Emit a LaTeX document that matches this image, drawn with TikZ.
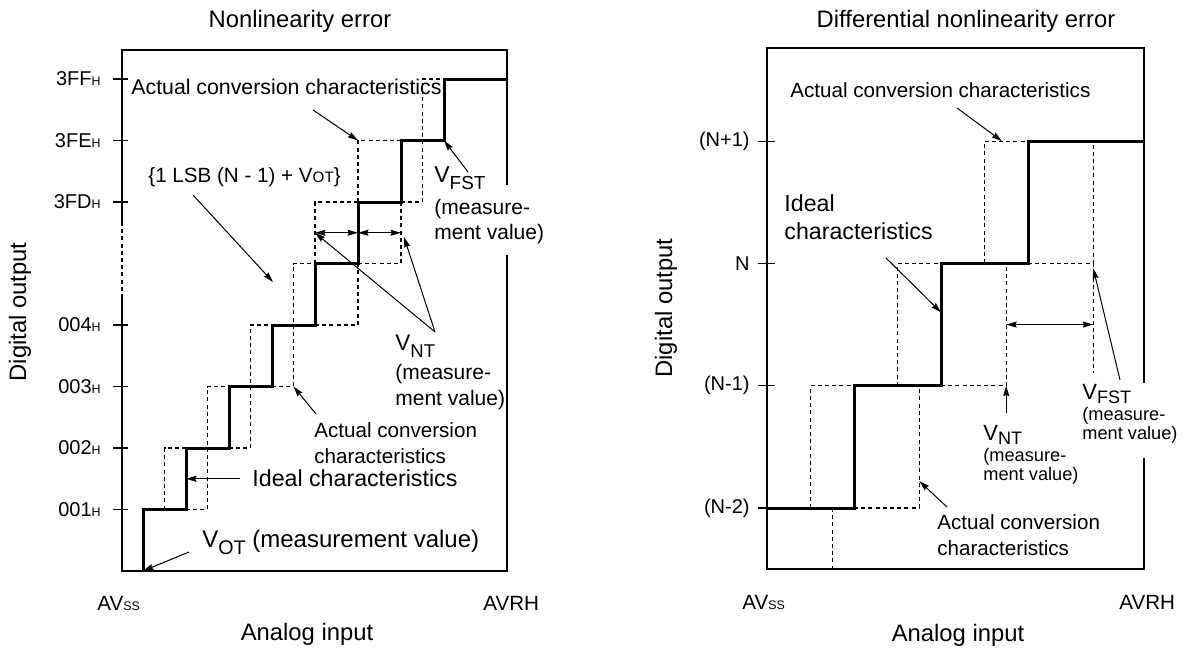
\documentclass[tikz,border=0pt]{standalone}
\usepackage{graphicx}
\usepackage{fontspec}
\setmainfont{Liberation Sans}
\usetikzlibrary{arrows.meta,positioning}

\newcommand{\tagtxt}[2][6.2]{{\fontsize{#1}{#1}\selectfont #2}}
\newcommand{\lowtxt}[2][0.3em]{\raisebox{-#1}{\scalebox{0.82}{#2}}}
\newcommand{\tightlines}{\lineskiplimit=-20pt\relax}

\tikzset{
  frame/.style={line width=0.6pt},
  ideal/.style={line width=1.5pt},
  actual/.style={line width=0.55pt, dash pattern=on 2pt off 1.6pt},
  callout/.style={line width=0.5pt, -{Stealth[length=5.2pt,width=3pt,inset=0.6pt]}},
  span/.style={line width=0.5pt, {Stealth[length=5.2pt,width=3pt,inset=0.6pt]}-{Stealth[length=5.2pt,width=3pt,inset=0.6pt]}},
  lbl/.style={inner sep=0pt, align=left},
  titletxt/.style={lbl, font=\fontsize{11.9}{14}\selectfont},
  ticktxt/.style={lbl, anchor=east, font=\fontsize{10}{12}\selectfont},
  bigtxt/.style={lbl, font=\fontsize{11.6}{14}\selectfont},
  midtxt/.style={lbl, font=\fontsize{10.3}{13}\selectfont},
  notetxt/.style={lbl, font=\fontsize{10.5}{12.75}\selectfont\tightlines},
  smalltxt/.style={lbl, font=\fontsize{9.1}{9.5}\selectfont\tightlines},
}

\begin{document}
\begin{tikzpicture}[x=0.5pt,y=-0.5pt]
\useasboundingbox (0,0) rectangle (1184,649);

% ---- Nonlinearity error ----
\node[titletxt,anchor=base] (l-title) at (300,27) {Nonlinearity error};
\node[titletxt,rotate=90] (l-yaxis) at (20,312) {Digital output};
\node[titletxt,anchor=base] (l-xaxis) at (307,640) {Analog input};
\node[midtxt,anchor=base west] (l-avss) at (97,610) {AV\tagtxt{SS}};
\node[midtxt,anchor=base west] (l-avrh) at (483,610) {AVRH};

\draw[frame] (122,298) -- (122,571) -- (507,571) -- (507,255);
\draw[frame] (507,185) -- (507,50) -- (122,50) -- (122,222);
\draw[actual] (122,222) -- (122,298);
\foreach \y/\code in {79/3FF,140.5/3FE,202/3FD,325/004,386.5/003,448/002,509.5/001}{
  \draw[frame] (113,\y) -- (128,\y);
  \node[ticktxt] (l-\code) at (101,\y) {\code\tagtxt{H}};
}

\begin{scope}[shift={(143,571)},x=21.5pt,y=30.75pt]
  \draw[ideal] (0,0) -- (0,1) -- (1,1) -- (1,2) -- (2,2) -- (2,3) -- (3,3) -- (3,4)
    -- (4,4) -- (4,5) -- (5,5) -- (5,6) -- (6,6) -- (6,7) -- (7,7) -- (7,8) -- (8.465,8);
  \draw[actual] (0.5,1) -- (0.5,2) -- (1,2);
  \draw[actual] (1,1) -- (1.5,1) -- (1.5,3) -- (2,3);
  \draw[actual] (2,2) -- (2.5,2) -- (2.5,4) -- (3,4);
  \draw[actual] (3,3) -- (3.5,3) -- (3.5,5) -- (4,5);
  \draw[actual] (4,4) -- (5,4) -- (5,5);
  \draw[actual] (4,5) -- (4,6) -- (5,6);
  \draw[actual] (5,5) -- (6,5) -- (6,6);
  \draw[actual] (5,6) -- (5,7) -- (6,7);
  \draw[actual] (6,6) -- (6.5,6) -- (6.5,8) -- (7,8);
  \coordinate (l-vot) at (0,0);
  \coordinate (l-ideal) at (1,1.5);
  \coordinate (l-ideal-from) at (2.256,1.5);
  \coordinate (l-actlow) at (3.5,3);
  \coordinate (l-acttop) at (5,7);
  \coordinate (l-fst) at (7,7);
  \coordinate (l-span-a) at (4,5.5);
  \coordinate (l-span-b) at (5,5.5);
  \coordinate (l-span-c) at (6,5.5);
\end{scope}
\draw[span] (l-span-a) -- (l-span-b);
\draw[span] (l-span-b) -- (l-span-c);

\node[midtxt,anchor=base west,font=\fontsize{10.65}{13}\selectfont] (l-acttop-txt) at (131,94) {Actual conversion characteristics};
\node[midtxt,anchor=base west] (l-lsb) at (148,182) {\{1 LSB (N - 1) + V\tagtxt[7.6]{OT}\}};
\node[notetxt,anchor=north west] (l-fst-txt) at (434,166) {{\fontsize{11.5}{12}\selectfont V\lowtxt{FST}}\\[3.25pt](measure-\\ment value)};
\node[notetxt,anchor=north west] (l-nt-txt) at (395,335) {{\fontsize{11.3}{12}\selectfont V\lowtxt{NT}}\\[1.75pt](measure-\\ment value)};
\node[midtxt,anchor=north west] (l-actlow-txt) at (314,422) {Actual conversion\\characteristics};
\node[bigtxt,anchor=base west] (l-ideal-txt) at (252,486) {Ideal characteristics};
\node[lbl,anchor=base west,font=\fontsize{12}{14}\selectfont] (l-vot-txt) at (202,547) {V\lowtxt{OT} (measurement value)};

\coordinate (l-acttop-from) at (313,110);
\coordinate (l-lsb-from) at (193,195);
\coordinate (l-lsb-to) at (273,282);
\coordinate (l-fst-from) at (468,172);
\coordinate (l-nt-from) at (435,332);
\coordinate (l-nt-to) at (404,237);
\coordinate (l-actlow-from) at (316,414);
\coordinate (l-vot-from) at (189,552);
\draw[callout] (l-acttop-from) -- (l-acttop);
\draw[callout] (l-lsb-from) -- (l-lsb-to);
\draw[callout] (l-fst-from) -- (l-fst);
\draw[callout] (l-nt-from) -- (l-span-a);
\draw[callout] (l-nt-from) -- (l-nt-to);
\draw[callout] (l-actlow-from) -- (l-actlow);
\draw[callout] (l-ideal-from) -- (l-ideal);
\draw[callout] (l-vot-from) -- (l-vot);

% ---- Differential nonlinearity error ----
\node[titletxt,anchor=base] (r-title) at (966,27) {Differential nonlinearity error};
\node[titletxt,rotate=90] (r-yaxis) at (666,308) {Digital output};
\node[titletxt,anchor=base] (r-xaxis) at (958,641) {Analog input};
\node[midtxt,anchor=base west] (r-avss) at (742,609) {AV\tagtxt{SS}};
\node[midtxt,anchor=base west] (r-avrh) at (1119,609) {AVRH};

\draw[frame] (1144,383) -- (1144,48) -- (767,48) -- (767,569) -- (1144,569) -- (1144,458);
\foreach \y/\code/\name in {141.1/{(N+1)}/np,263.4/N/n,385.7/{(N-1)}/nm,508/{(N-2)}/nmm}{
  \draw[frame] (758,\y) -- (775,\y);
  \node[ticktxt] (r-\name) at (750,\y) {\code};
}

\begin{scope}[shift={(854,508)},x=43.5pt,y=61.15pt]
  \draw[ideal] (-1,0) -- (0,0) -- (0,1) -- (1,1) -- (1,2) -- (2,2) -- (2,3) -- (3.333,3);
  \draw[actual] (-0.5,0) -- (-0.5,1) -- (0,1);
  \draw[actual] (-0.25,0) -- (-0.25,-0.5);
  \draw[actual] (0,0) -- (0.75,0) -- (0.75,1);
  \draw[actual] (0.5,1) -- (0.5,2) -- (1,2);
  \draw[actual] (1,1) -- (1.75,1) -- (1.75,2);
  \draw[actual] (1.5,2) -- (1.5,3) -- (2,3);
  \draw[actual] (2,2) -- (2.75,2) -- (2.75,3);
  \draw[actual] (2.75,2) -- (2.75,1.1);
  \coordinate (r-span-a) at (1.75,1.5);
  \coordinate (r-span-b) at (2.75,1.5);
  \coordinate (r-nt) at (1.75,1);
  \coordinate (r-nt-from) at (1.75,0.777);
  \coordinate (r-fst) at (2.75,1.96);
  \coordinate (r-acttop) at (1.7,3);
  \coordinate (r-actlow) at (0.75,0.22);
  \coordinate (r-ideal) at (1,1.6);
\end{scope}
\draw[span] (r-span-a) -- (r-span-b);

\node[midtxt,anchor=base west] (r-acttop-txt) at (790,97) {Actual conversion characteristics};
\node[bigtxt,anchor=north west] (r-ideal-txt) at (784,194) {Ideal\\characteristics};
\node[midtxt,anchor=north west] (r-actlow-txt) at (937,514) {Actual conversion\\characteristics};
\node[smalltxt,anchor=north west] (r-nt-txt) at (983,425) {{\fontsize{11}{11}\selectfont V\lowtxt[0.2em]{NT}}\\[1.2pt](measure-\\ment value)};
\node[smalltxt,anchor=north west] (r-fst-txt) at (1082,384) {{\fontsize{11}{11}\selectfont V\lowtxt[0.2em]{FST}}\\[1.2pt](measure-\\ment value)};

\coordinate (r-acttop-from) at (957,108);
\coordinate (r-ideal-from) at (886,258);
\coordinate (r-actlow-from) at (947,507);
\coordinate (r-fst-from) at (1120,380);
\draw[callout] (r-acttop-from) -- (r-acttop);
\draw[callout] (r-ideal-from) -- (r-ideal);
\draw[callout] (r-actlow-from) -- (r-actlow);
\draw[callout] (r-nt-from) -- (r-nt);
\draw[callout] (r-fst-from) -- (r-fst);
\end{tikzpicture}
\end{document}
